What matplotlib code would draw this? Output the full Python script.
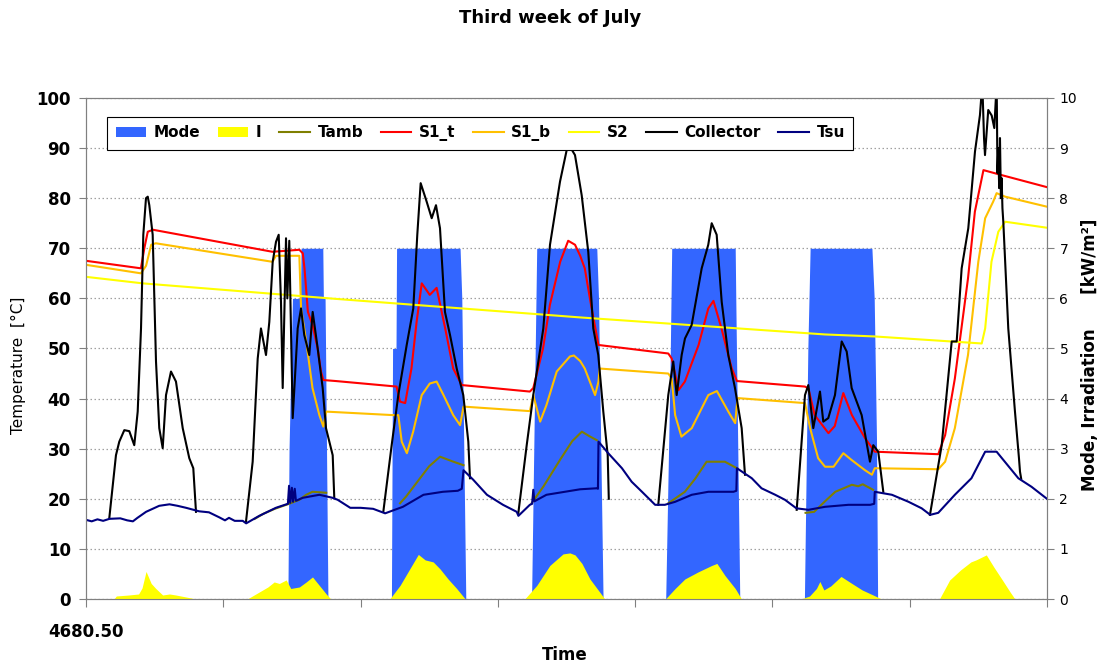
import numpy as np
import matplotlib.pyplot as plt
from matplotlib.patches import Patch
from matplotlib.lines import Line2D

nan = np.nan
T0 = 4680.5  # first hour of the week

# operating mode (right axis), hours after T0
mode_t = [0, 35.3, 35.5, 36.1, 37.5, 37.6, 41.4, 41.5, 41.8, 42.3,
          53.4, 53.6, 54.2, 54.3, 65.4, 65.7, 66.4,
          77.9, 78.8, 89.3, 89.6, 90.4,
          101.35, 102.1, 102.4, 113.5, 113.6, 114.3,
          125.6, 126.2, 126.6, 137.4, 137.8, 138.2, 138.4, 168]
mode_v = [0, 0, 3, 6, 6, 7, 7, 6, 6, 0,
          0, 5, 5, 7, 7, 6, 0,
          0, 7, 7, 6, 0,
          0, 4.5, 7, 7, 6, 0,
          0, 5, 7, 7, 6, 3.2, 0, 0]

# solar irradiation [kW/m2]
irr_t = [0, 4.9, 5.3, 7.5, 9.2, 9.8, 10.5, 11.4, 12.2, 13.4, 14.6, 15.7, 17.5, 19.2,
         28.2, 28.8, 30.3, 31.8, 32.9, 33.8, 35.0, 35.8, 37.3, 38.5, 39.6, 40.8, 42.0, 42.8,
         53.1, 54.9, 56.6, 58.1, 59.3, 60.7, 61.9, 63.3, 64.8, 66.3,
         76.7, 78.8, 81.1, 83.4, 84.6, 85.5, 86.7, 88.1, 89.6, 90.7,
         101.3, 103.0, 104.7, 107.0, 109.4, 110.3, 111.7, 113.5, 114.6,
         125.0, 126.5, 127.7, 128.3, 129.0, 130.2, 132.0, 133.9, 135.7, 137.6, 139.1,
         149.2, 151.0, 152.9, 154.7, 155.6, 157.4, 158.7, 160.2, 161.5, 162.4, 168]
irr_v = [0, 0, 0.06, 0.08, 0.1, 0.22, 0.55, 0.31, 0.21, 0.08, 0.1, 0.08, 0.04, 0,
         0, 0.04, 0.14, 0.24, 0.34, 0.31, 0.38, 0.21, 0.24, 0.34, 0.44, 0.27, 0.1, 0,
         0, 0.27, 0.6, 0.89, 0.78, 0.74, 0.6, 0.4, 0.21, 0,
         0, 0.27, 0.67, 0.9, 0.92, 0.88, 0.71, 0.4, 0.17, 0,
         0, 0.21, 0.4, 0.54, 0.67, 0.71, 0.47, 0.21, 0,
         0, 0.06, 0.21, 0.35, 0.18, 0.26, 0.45, 0.31, 0.18, 0.08, 0,
         0, 0.38, 0.58, 0.74, 0.78, 0.88, 0.64, 0.38, 0.15, 0, 0]

# ambient temperature, logged only around the collector operation
tamb_t = [29.5, 31, 33, 35.5, 37.3, 38.5, 39.6, 42.0, nan,
          54.9, 56, 58, 60, 61.9, 64, 66, nan,
          77.9, 80, 83, 85, 86.7, 88, 89.3, nan,
          101.8, 104.7, 106.5, 108.5, 111.7, 113.8, nan,
          125.8, 127.3, 129.2, 131, 133.9, 135, 135.8, 137.6]
tamb_v = [16.0, 17.0, 18.0, 19.0, 19.8, 20.8, 21.4, 21.2, nan,
          19.1, 20.5, 23.5, 26.5, 28.4, 27.5, 26.7, nan,
          19.1, 22.5, 28.0, 31.5, 33.4, 32.5, 31.7, nan,
          19.1, 21.4, 24.0, 27.4, 27.4, 26.1, nan,
          17.2, 17.4, 19.5, 21.4, 22.8, 22.5, 22.9, 21.8]

# storage 1, top
s1t_t = [0, 9.6, 10.2, 10.8, 11.7, 32.6, 37.3, 37.9, 38.2, 38.8, 39.6, 40.5, 41.1, 41.5, 43.7,
         54.3, 54.9, 55.8, 56.9, 57.8, 58.7, 60.1, 61.3, 62.8, 64.2, 65.7,
         77.6, 78.2, 79.9, 81.1, 82.9, 84.3, 85.5, 86.4, 87.2, 88.4, 89.6,
         101.8, 102.4, 103.6, 104.7, 107.1, 108.8, 109.7, 111.1, 112.9, 113.8,
         125.7, 126.3, 127.4, 129.8, 130.9, 132.4, 133.9, 136.2, 137.9,
         149.0, 150.2, 151.9, 154.2, 155.4, 156.9, 160.1, 168]
s1t_v = [67.5, 66.0, 70.0, 73.3, 73.7, 69.3, 69.7, 69.0, 66.0, 57.3, 54.7, 50.0, 45.3, 43.7, 43.5,
         42.4, 39.4, 39.1, 46.0, 55.3, 63.0, 60.7, 62.1, 54.0, 46.0, 42.7,
         41.4, 42.1, 50.0, 58.7, 67.3, 71.5, 70.7, 68.5, 66.0, 58.0, 50.7,
         49.0, 48.0, 41.7, 43.4, 50.7, 58.0, 59.5, 54.0, 46.0, 43.5,
         42.4, 42.0, 36.7, 33.1, 34.5, 41.1, 36.7, 32.1, 29.4,
         28.9, 32.7, 44.0, 64.0, 77.3, 85.6, 84.6, 82.2]

# storage 1, bottom
s1b_t = [0, 9.6, 10.5, 11.4, 12.2, 32.6, 33.2, 37.3, 37.6, 38.5, 39.6, 40.8, 41.5, 42.0,
         53.7, 54.6, 55.2, 56.1, 57.2, 58.7, 60.1, 61.3, 62.5, 64.2, 65.4, 66.0,
         77.6, 78.2, 79.4, 80.5, 82.3, 84.6, 85.3, 86.4, 87.2, 89.0, 89.6, 89.8,
         101.8, 102.4, 103.0, 104.1, 105.9, 108.8, 110.3, 112.3, 113.5, 113.9,
         125.7, 126.6, 128.0, 129.2, 130.7, 132.4, 133.9, 136.2, 137.4, 137.9,
         149.0, 150.2, 151.9, 154.2, 156.0, 157.2, 158.6, 159.2, 160.7, 168]
s1b_v = [66.7, 65.0, 66.5, 70.7, 71.0, 67.3, 68.5, 68.5, 58.0, 51.4, 42.1, 36.7, 34.4, 37.4,
         36.7, 36.7, 31.4, 29.1, 33.4, 40.7, 43.0, 43.4, 40.7, 36.7, 34.7, 38.4,
         37.5, 40.7, 35.4, 38.7, 45.4, 48.4, 48.6, 47.5, 46.0, 40.7, 43.4, 46.0,
         45.0, 44.0, 36.7, 32.4, 34.1, 40.7, 41.5, 37.4, 35.1, 40.1,
         39.1, 34.1, 28.1, 26.4, 26.4, 29.1, 27.7, 25.7, 24.8, 26.1,
         25.9, 27.4, 34.1, 48.7, 67.3, 76.0, 79.3, 81.0, 80.3, 78.3]

# storage 2
s2_t = [0, 9.9, 43.7, 86.4, 129.2, 137.9, 156.6, 157.2, 158.3, 159.5, 160.7, 168]
s2_v = [64.3, 63.0, 59.9, 56.2, 52.8, 52.4, 51.0, 54.0, 67.3, 73.3, 75.3, 74.1]

# collector outlet, only while irradiated
coll_t = [4.07, 5.24, 5.82, 6.70, 7.57, 8.44, 9.04, 9.62, 10.02, 10.49, 10.8, 11.07, 11.66,
          12.24, 12.81, 13.41, 13.99, 14.86, 15.73, 16.91, 18.06, 18.76, 19.23, nan,
          27.97, 29.14, 30.02, 30.59, 31.47, 32.05, 32.64, 33.22, 33.69, 34.09, 34.39, 34.97,
          35.2, 35.54, 36.14, 37.01, 37.59, 38.16, 39.04, 39.63, 40.51, 41.38, 41.96, 43.13,
          43.41, nan,
          51.98, 53.44, 54.6, 56.07, 57.22, 57.92, 58.51, 59.56, 60.44, 61.19, 61.89, 62.76,
          63.64, 64.81, 65.96, 66.84, 67.13, nan,
          75.58, 77.05, 78.2, 79.95, 81.12, 82.87, 84.04, 84.5, 85.49, 86.66, 87.81, 88.69,
          89.56, 90.44, 91.21, 91.4, nan,
          100.05, 101.8, 102.67, 103.27, 104.14, 104.72, 105.89, 107.64, 108.79, 109.39,
          110.26, 111.14, 112.29, 113.46, 114.63, 115.21, nan,
          124.25, 125.7, 126.28, 127.15, 128.32, 128.9, 129.77, 130.94, 132.12, 132.99,
          133.86, 135.61, 137.06, 137.64, 138.51, 139.39, nan,
          147.55, 149.6, 151.35, 152.22, 153.09, 154.25, 155.42, 156.29, 156.7, 157.0,
          157.17, 157.74, 158.34, 158.8, 159.21, 159.35, 159.49, 159.65, 159.79, 159.95,
          160.08, 160.22, 160.37, 161.24, 162.41, 163.11, 163.29, 163.5]
coll_v = [16.1, 28.7, 31.4, 33.7, 33.5, 30.7, 37.4, 54.0, 72.7, 80.0, 80.3, 78.6, 72.7,
          47.4, 34.1, 30.1, 40.7, 45.4, 43.4, 34.1, 28.1, 26.1, 17.4, nan,
          15.4, 27.4, 48.0, 54.0, 48.7, 55.3, 67.3, 71.3, 72.7, 59.3, 42.1, 72.0,
          60.0, 71.5, 36.1, 54.0, 58.0, 52.7, 48.7, 57.3, 50.0, 42.1, 34.1, 28.7,
          20.1, nan,
          17.4, 30.7, 40.7, 50.7, 58.0, 72.7, 83.0, 79.3, 76.0, 78.6, 74.0, 57.3,
          52.7, 46.0, 40.7, 31.4, 24.1, nan,
          17.1, 30.7, 40.7, 54.0, 70.7, 83.3, 89.6, 90.5, 88.6, 80.6, 69.3, 54.0,
          48.7, 37.4, 28.7, 20.0, nan,
          18.8, 40.7, 47.4, 40.7, 48.7, 52.0, 54.7, 66.0, 70.7, 75.0,
          72.7, 59.3, 48.7, 42.1, 34.1, 24.8, nan,
          17.8, 40.7, 42.7, 34.1, 41.4, 35.4, 36.1, 40.7, 51.4, 49.4,
          42.1, 36.7, 27.4, 30.7, 29.4, 21.4, nan,
          16.8, 30.7, 51.4, 51.4, 66.0, 74.0, 89.3, 96.6, 103.0, 92.0,
          88.6, 97.6, 96.5, 94.0, 103.0, 85.0, 90.0, 82.0, 92.0, 80.0,
          84.0, 78.0, 75.3, 54.0, 37.4, 28.1, 25.4, 24.0]

# supply temperature
tsu_t = [0, 1, 2, 3, 4.1, 6, 7.2, 8.2, 9, 10.5, 12.8, 14.6, 16, 17.5, 19.8, 21.5, 23.3,
         24.3, 25, 26, 27.4, 28, 30.3, 33.2, 35.3, 35.5, 35.7, 36.0, 36.2, 36.5, 36.7, 37.9,
         40.8, 43.1, 44, 46.2, 48, 50.2, 52.3, 55.4, 59.0, 62.4, 65.0, 65.7, 66.0, 67.7,
         70.1, 72.9, 75.3, 75.6, 77.6, 78.0, 78.2, 78.4, 80.5, 86.4, 89.3, 89.5, 89.6,
         91.3, 93.7, 95.4, 97.2, 99.5, 101.2, 103.0, 105.9, 108.8, 113.2, 113.7, 113.8,
         116.4, 118.1, 120.5, 122.2, 124.2, 126.3, 129.2, 133.3, 137.1, 137.8, 137.9,
         140.9, 143.8, 146.1, 147.6, 149.0, 151.9, 154.8, 157.2, 159.2, 163.0, 165.3, 168]
tsu_v = [15.8, 15.5, 15.9, 15.6, 16.0, 16.1, 15.7, 15.5, 16.2, 17.4, 18.6, 18.9, 18.6,
         18.2, 17.5, 17.3, 16.3, 15.7, 16.2, 15.6, 15.6, 15.1, 16.6, 18.2, 19.0, 22.6,
         19.2, 22.2, 19.4, 22.0, 19.6, 20.2, 20.8, 20.2, 19.8, 18.2, 18.2, 18.0, 17.1,
         18.4, 20.8, 21.4, 21.6, 22.0, 25.7, 23.8, 20.8, 18.8, 17.4, 16.6, 18.8, 19.0,
         21.8, 19.5, 20.8, 21.9, 22.1, 22.0, 31.4, 29.1, 26.1, 23.4, 21.4, 18.8, 18.8,
         19.4, 20.8, 21.4, 21.4, 21.6, 26.1, 24.1, 22.1, 20.8, 19.8, 18.1, 17.8, 18.4,
         18.8, 18.8, 19.0, 21.4, 20.8, 19.4, 18.1, 16.8, 17.2, 20.8, 24.1, 29.4, 29.4,
         24.1, 22.4, 20.0]

blue = '#3366FF'
colors = {'Tamb': '#7F7F00', 'S1_t': '#FF0000', 'S1_b': '#FFC000',
          'S2': '#FFFF00', 'Collector': '#000000', 'Tsu': '#000080'}

fig = plt.figure(figsize=(11.01, 6.66), dpi=100)
ax = fig.add_axes([0.0781, 0.1006, 0.8728, 0.7523])
ax2 = ax.twinx()
# temperatures on top of the mode / irradiation areas
ax.set_zorder(ax2.get_zorder() + 1)
ax.patch.set_visible(False)

t = lambda lst: T0 + np.array(lst, dtype=float)

ax2.fill_between(t(mode_t), mode_v, color=blue, lw=0, zorder=2)
ax2.fill_between(t(irr_t), irr_v, color='#FFFF00', lw=0, zorder=3)
ax2.set_ylim(0, 10)
ax2.set_yticks(range(0, 11))
ax2.set_axisbelow(True)
ax2.yaxis.grid(True, linestyle=(0, (1.2, 2)), color='#A0A0A0', lw=0.9)

series = [('Tamb', tamb_t, tamb_v), ('S1_t', s1t_t, s1t_v), ('S1_b', s1b_t, s1b_v),
          ('S2', s2_t, s2_v), ('Collector', coll_t, coll_v), ('Tsu', tsu_t, tsu_v)]
for name, xs, ys in series:
    ax.plot(t(xs), ys, color=colors[name], lw=1.5, label=name)

ax.set_xlim(T0, T0 + 168)
ax.set_ylim(0, 100)
ax.set_yticks(range(0, 101, 10))
ax.set_xticks(T0 + np.arange(0, 169, 24))
ax.set_xticklabels(['%.2f' % T0] + [''] * 7)

for a in (ax, ax2):
    for sp in a.spines.values():
        sp.set_color('#808080')
ax.tick_params(axis='y', direction='out', length=5, color='#808080', pad=6,
               labelsize=12)
ax.tick_params(axis='x', direction='out', length=6, color='#808080', pad=11,
               labelsize=12)
ax2.tick_params(axis='y', direction='out', length=5, color='#808080', pad=4,
                labelsize=10)
for lab in ax.get_yticklabels() + ax.get_xticklabels():
    lab.set_fontweight('bold')

fig.text(0.5, 1 - 18 / 666, 'Third week of July', ha='center', va='center',
         fontsize=13, fontweight='bold')
fig.text(565 / 1101, 1 - 655 / 666, 'Time', ha='center', va='center',
         fontsize=12, fontweight='bold')
fig.text(18 / 1101, 1 - 365 / 666, 'Temperature  [\u00b0C]', rotation=90,
         ha='center', va='center', fontsize=11)
fig.text(1090 / 1101, 1 - 355 / 666, 'Mode, Irradiation      [kW/m\u00b2]', rotation=90,
         ha='center', va='center', fontsize=12, fontweight='bold')

handles = [Patch(facecolor=blue, edgecolor='none', label='Mode'),
           Patch(facecolor='#FFFF00', edgecolor='none', label='I')]
handles += [Line2D([], [], color=colors[n], lw=1.5, label=n) for n, _, _ in series]
leg = ax.legend(handles=handles, loc='upper left', bbox_to_anchor=(0.022, 0.962),
                ncol=8, borderaxespad=0, fancybox=False, framealpha=1,
                edgecolor='#000000', prop={'weight': 'bold', 'size': 11},
                handlelength=2.0, handletextpad=0.5, columnspacing=1.15,
                borderpad=0.55)
leg.get_frame().set_linewidth(0.8)

fig.savefig('out.png', dpi=100)
